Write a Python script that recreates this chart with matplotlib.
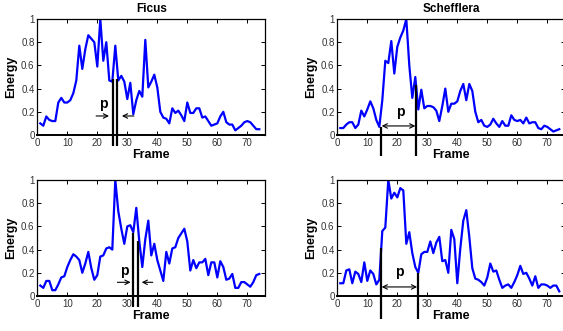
"""
Energy per frame for two plants (Ficus, Schefflera), two runs each,
with the period p marked between two vertical bars.
"""

import numpy as np
import matplotlib
matplotlib.use('Agg')
import matplotlib.pyplot as plt

plt.rcParams['font.family'] = ['Liberation Sans', 'DejaVu Sans']

frames = np.arange(1, 75)

# Ficus, first run
ficus_a = [0.10, 0.08, 0.16, 0.13, 0.12, 0.12, 0.28, 0.32, 0.28, 0.28,
           0.30, 0.36, 0.47, 0.77, 0.57, 0.74, 0.86, 0.83, 0.80, 0.59,
           1.00, 0.64, 0.80, 0.47, 0.46, 0.77, 0.47, 0.51, 0.46, 0.31,
           0.45, 0.18, 0.30, 0.38, 0.33, 0.82, 0.41, 0.46, 0.52, 0.41,
           0.20, 0.15, 0.14, 0.10, 0.23, 0.19, 0.21, 0.17, 0.12, 0.28,
           0.19, 0.19, 0.23, 0.23, 0.15, 0.16, 0.12, 0.08, 0.09, 0.10,
           0.16, 0.20, 0.11, 0.09, 0.09, 0.04, 0.06, 0.08, 0.11, 0.12,
           0.11, 0.08, 0.05, 0.05]

# Schefflera, first run
scheff_a = [0.06, 0.06, 0.09, 0.11, 0.11, 0.06, 0.09, 0.21, 0.16, 0.22,
            0.29, 0.23, 0.13, 0.07, 0.30, 0.64, 0.62, 0.81, 0.53, 0.76,
            0.84, 0.90, 1.00, 0.60, 0.32, 0.50, 0.22, 0.39, 0.23, 0.25,
            0.25, 0.24, 0.21, 0.12, 0.25, 0.40, 0.20, 0.27, 0.27, 0.29,
            0.38, 0.44, 0.30, 0.44, 0.38, 0.20, 0.11, 0.13, 0.08, 0.07,
            0.09, 0.14, 0.10, 0.07, 0.12, 0.08, 0.08, 0.17, 0.13, 0.12,
            0.13, 0.10, 0.15, 0.10, 0.11, 0.11, 0.06, 0.05, 0.08, 0.07,
            0.05, 0.03, 0.04, 0.05]

# Ficus, second run
ficus_b = [0.09, 0.07, 0.13, 0.13, 0.05, 0.05, 0.10, 0.16, 0.17, 0.25,
           0.31, 0.36, 0.34, 0.31, 0.20, 0.28, 0.38, 0.24, 0.14, 0.18,
           0.34, 0.35, 0.41, 0.42, 0.40, 1.00, 0.73, 0.58, 0.45, 0.60,
           0.61, 0.55, 0.76, 0.47, 0.25, 0.49, 0.65, 0.35, 0.45, 0.31,
           0.22, 0.13, 0.38, 0.28, 0.41, 0.42, 0.50, 0.54, 0.58, 0.47,
           0.22, 0.31, 0.24, 0.29, 0.29, 0.32, 0.18, 0.29, 0.29, 0.16,
           0.30, 0.25, 0.14, 0.15, 0.19, 0.07, 0.07, 0.12, 0.12, 0.10,
           0.08, 0.12, 0.18, 0.19]

# Schefflera, second run
scheff_b = [0.11, 0.11, 0.22, 0.23, 0.11, 0.21, 0.19, 0.12, 0.29, 0.13,
            0.22, 0.19, 0.10, 0.14, 0.56, 0.59, 1.00, 0.84, 0.89, 0.85,
            0.93, 0.91, 0.45, 0.55, 0.37, 0.25, 0.20, 0.36, 0.38, 0.38,
            0.47, 0.37, 0.46, 0.51, 0.30, 0.31, 0.20, 0.57, 0.49, 0.11,
            0.41, 0.65, 0.74, 0.51, 0.24, 0.15, 0.14, 0.12, 0.09, 0.16,
            0.28, 0.21, 0.22, 0.14, 0.07, 0.09, 0.10, 0.07, 0.12, 0.18,
            0.26, 0.19, 0.20, 0.15, 0.09, 0.17, 0.07, 0.10, 0.10, 0.09,
            0.07, 0.09, 0.09, 0.04]

titles = ['Ficus', 'Schefflera', '', '']
series = [ficus_a, scheff_a, ficus_b, scheff_b]

# period markers: (x, top, bottom) for both bars
bars = [[(25.1, 0.48, -0.095), (26.7, 0.48, -0.095)],
        [(14.6, 0.07, -0.178), (26.2, 0.43, -0.178)],
        [(32.0, 0.54, -0.092), (33.7, 0.47, -0.092)],
        [(14.6, 0.41, -0.198), (26.8, 0.20, -0.198)]]

# 'p' label position and arrow specs
p_pos = [(21.9, 0.27), (20.9, 0.20), (28.9, 0.215), (20.5, 0.21)]
# outward pair for narrow gaps: (start, end, y)
arrows = [[(19.6, 23.9, 0.164), (32.2, 28.2, 0.164)],
          [(14.8, 26.0, 0.078)],
          [(26.7, 31.1, 0.118), (38.5, 34.8, 0.118)],
          [(14.8, 26.6, 0.078)]]

mydpi = 100
fig = plt.figure(figsize=(563/mydpi, 331/mydpi), dpi=mydpi)

W, H = 563.0, 331.0
boxes = [(37.3, 19, 228, 116), (337.3, 19, 228, 116),
         (37.3, 180, 228, 116), (337.3, 180, 228, 116)]

for i in range(4):
    l, t, w, h = boxes[i]
    ax = fig.add_axes([l/W, (H-t-h)/H, w/W, h/H])
    ax.plot(frames, series[i], color='#0000ff', lw=1.6)
    ax.set_xlim(0, 76)
    ax.set_ylim(0, 1)
    ax.set_xticks(np.arange(0, 80, 10))
    ax.set_yticks([0, 0.2, 0.4, 0.6, 0.8, 1])
    ax.set_yticklabels(['0', '0.2', '0.4', '0.6', '0.8', '1'])
    ax.tick_params(direction='in', length=3, width=0.7, top=True, right=True,
                   labelsize=7, labelcolor='#333333', pad=2)
    for s in ax.spines.values():
        s.set_linewidth(0.9)
    ax.spines['bottom'].set_linewidth(1.4)
    ax.set_ylabel('Energy', fontsize=9, fontweight='bold', labelpad=3)
    ax.set_xlabel('Frame', fontsize=9, fontweight='bold', labelpad=1)
    if titles[i]:
        ax.set_title(titles[i], fontsize=8.5, fontweight='bold', pad=5)

    for (x, top, bot) in bars[i]:
        ax.plot([x, x], [bot, top], color='black', lw=1.6, clip_on=False,
                solid_capstyle='butt')

    if len(arrows[i]) == 2:
        for (x0, x1, y) in arrows[i]:
            ax.annotate('', xy=(x1, y), xytext=(x0, y),
                        arrowprops=dict(arrowstyle='->', color='black', lw=0.8,
                                        shrinkA=0, shrinkB=0, mutation_scale=8))
    else:
        x0, x1, y = arrows[i][0]
        ax.annotate('', xy=(x1, y), xytext=(x0, y),
                    arrowprops=dict(arrowstyle='<->', color='black', lw=0.8,
                                    shrinkA=0, shrinkB=0, mutation_scale=8))

    px, py = p_pos[i]
    ax.text(px, py, 'p', fontsize=10, fontweight='bold', ha='center', va='center')

plt.savefig('out.png', dpi=mydpi)
